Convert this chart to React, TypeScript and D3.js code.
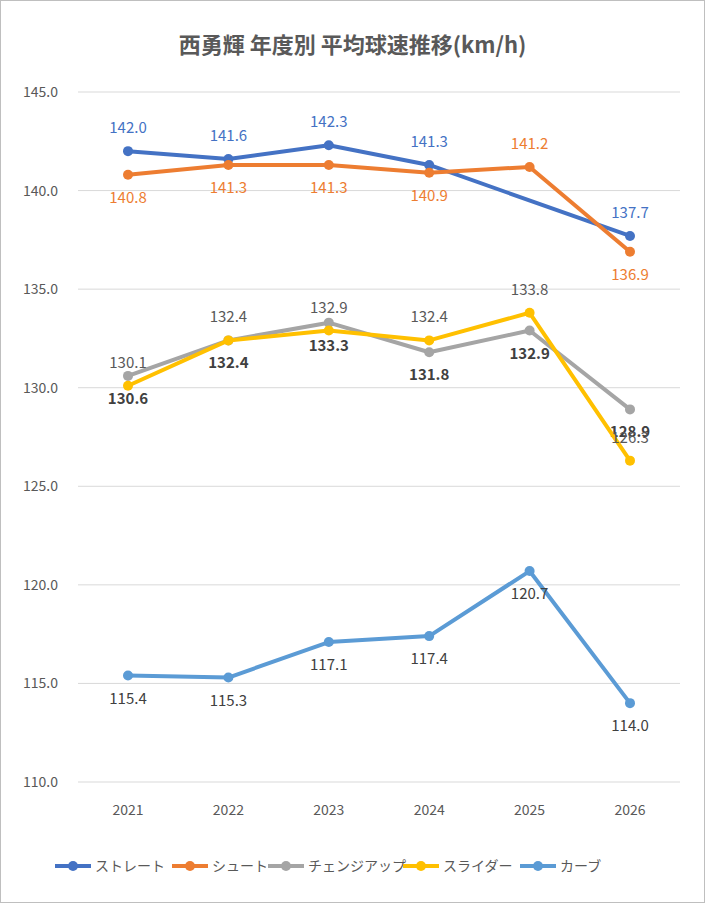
import React from "react";
import * as d3 from "d3";

const years = ["2021", "2022", "2023", "2024", "2025", "2026"];
const straight = [142.0, 141.6, 142.3, 141.3, null, 137.7];
const shoot = [140.8, 141.3, 141.3, 140.9, 141.2, 136.9];
const changeup = [130.6, 132.4, 133.3, 131.8, 132.9, 128.9];
const slider = [130.1, 132.4, 132.9, 132.4, 133.8, 126.3];
const curve = [115.4, 115.3, 117.1, 117.4, 120.7, 114.0];
const yTicks = [110, 115, 120, 125, 130, 135, 140, 145];

const series = [
  { name: "ストレート", values: straight, color: "#4472C4", pos: "above", lc: "#4472C4", bold: false },
  { name: "シュート", values: shoot, color: "#ED7D31", pos: "below", lc: "#ED7D31", bold: false },
  { name: "チェンジアップ", values: changeup, color: "#A5A5A5", pos: "below", lc: "#404040", bold: true },
  { name: "スライダー", values: slider, color: "#FFC000", pos: "above", lc: "#595959", bold: false },
  { name: "カーブ", values: curve, color: "#5B9BD5", pos: "below", lc: "#404040", bold: false },
];
const shootAbove = [false, false, false, false, true, false];

export default function App() {
  const W = 705, H = 903;
  const x = d3.scalePoint().domain(years).range([128, 630]);
  const y = d3.scaleLinear().domain([110, 145]).range([782, 92]);
  const font = "'Noto Sans CJK JP', 'Noto Sans', sans-serif";
  const legendX = [55, 172, 268, 403, 520];
  return (
    <svg width={W} height={H} style={{ position: "absolute", left: 0, top: 0 }} fontFamily={font}>
      <rect x={0.5} y={0.5} width={W - 1} height={H - 1} fill="#fff" stroke="#BFBFBF" />
      <text x={W / 2} y={53} textAnchor="middle" fontSize={22} fontWeight="bold" fill="#595959">
        西勇輝 年度別 平均球速推移(km/h)
      </text>
      {yTicks.map((t) => (
        <g key={t}>
          <line x1={78} x2={680} y1={y(t)} y2={y(t)} stroke="#D9D9D9" />
          <text x={58} y={y(t) + 5} textAnchor="end" fontSize={14} fill="#595959">{t.toFixed(1)}</text>
        </g>
      ))}
      {years.map((yr) => (
        <text key={yr} x={x(yr)} y={815} textAnchor="middle" fontSize={14} fill="#595959">{yr}</text>
      ))}
      {series.map((s, si) => {
        const pts = years.map((yr, i) => ({ yr, v: s.values[i], i })).filter((p) => p.v != null) as { yr: string; v: number; i: number }[];
        const line = d3.line<{ yr: string; v: number }>().x((p) => x(p.yr)!).y((p) => y(p.v));
        return (
          <g key={s.name}>
            <path d={line(pts)!} fill="none" stroke={s.color} strokeWidth={4} strokeLinejoin="round" />
            {pts.map((p) => (
              <circle key={p.yr} cx={x(p.yr)} cy={y(p.v)} r={5} fill={s.color} />
            ))}
            {pts.map((p) => {
              let above = s.pos === "above";
              if (si === 1) above = shootAbove[p.i];
              const dy = above ? -18 : 28;
              return (
                <text key={"l" + p.yr} x={x(p.yr)} y={y(p.v) + dy} textAnchor="middle" fontSize={15}
                  fill={s.lc} fontWeight={s.bold ? "bold" : "normal"}>
                  {(si === 2 ? changeup[p.i] : si === 3 ? slider[p.i] : p.v).toFixed(1)}
                </text>
              );
            })}
          </g>
        );
      })}
      {series.map((s, i) => (
        <g key={"lg" + s.name}>
          <line x1={legendX[i]} x2={legendX[i] + 36} y1={866} y2={866} stroke={s.color} strokeWidth={4} />
          <circle cx={legendX[i] + 18} cy={866} r={5} fill={s.color} />
          <text x={legendX[i] + 40} y={871} fontSize={14} fill="#595959">{s.name}</text>
        </g>
      ))}
    </svg>
  );
}
